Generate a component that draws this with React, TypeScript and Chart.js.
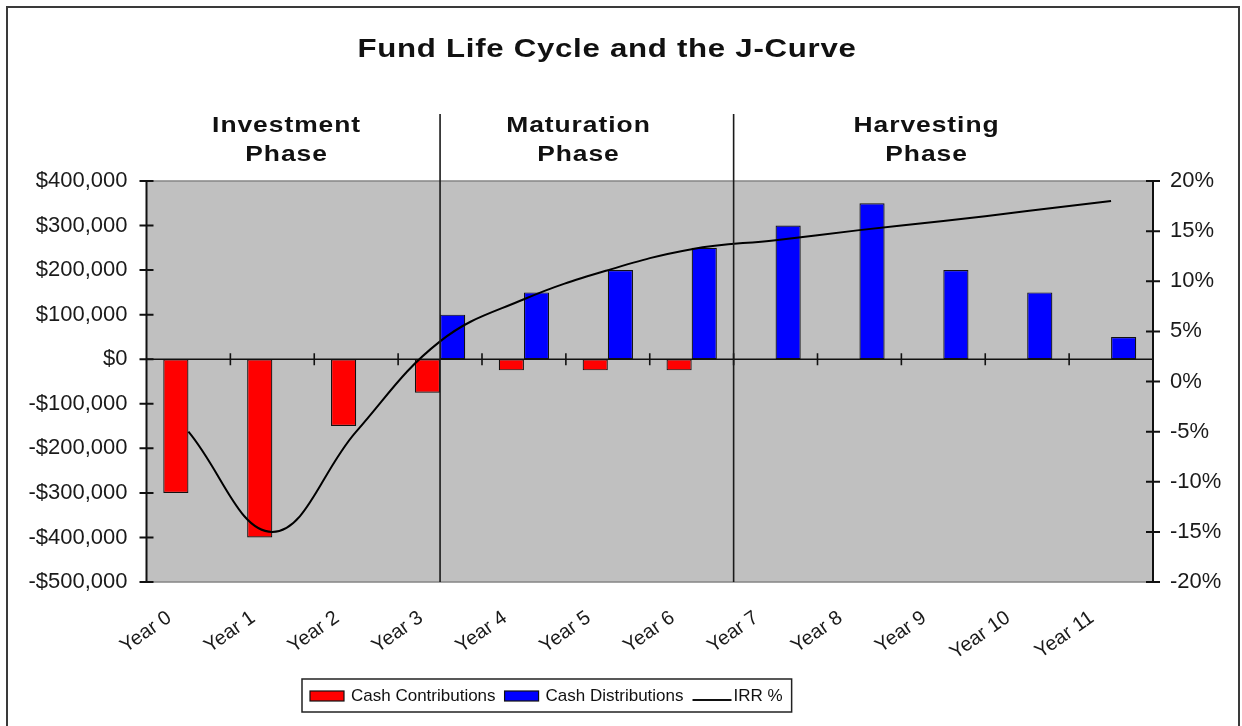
import React, { useEffect, useRef } from 'react';
import { Chart, registerables } from 'chart.js';

Chart.register(...registerables);

// ---------- data ----------
const TITLE = 'Fund Life Cycle and the J-Curve';
const YEARS = ['Year 0', 'Year 1', 'Year 2', 'Year 3', 'Year 4', 'Year 5', 'Year 6', 'Year 7', 'Year 8', 'Year 9', 'Year 10', 'Year 11'];
const CONTRIBUTIONS = [-300000, -400000, -150000, -75000, -25000, -25000, -25000, null, null, null, null, null];
const DISTRIBUTIONS = [null, null, null, 100000, 150000, 200000, 250000, 300000, 350000, 200000, 150000, 50000];
const IRR_PCT = [-5, -15, -5, 4, 8.2, 11.1, 13.2, 14.1, 15.1, 16, 17, 18];
const SERIES_NAMES = ['Cash Contributions', 'Cash Distributions', 'IRR %'];
const PHASES = [['Investment', 'Phase'], ['Maturation', 'Phase'], ['Harvesting', 'Phase']];
const MONEY_MIN = -500000;
const MONEY_MAX = 400000;
const MONEY_STEP = 100000;
const PCT_MIN = -20;
const PCT_MAX = 20;
const PCT_STEP = 5;

// ---------- layout (category units / pixels) ----------
const PHASE_LABEL_AT = [1.17, 4.65, 8.8];
const PHASE_DIVIDER_AT = [3, 6.5];
const W = 1242;
const H = 726;
const FONT = '"Liberation Sans", Arial, sans-serif';

const fmtMoney = (v: number) => (v < 0 ? '-' : '') + '$' + Math.abs(v).toLocaleString('en-US');

const catPixel = (x: any, v: number) => {
  const i = Math.floor(v);
  const f = v - i;
  return x.getPixelForValue(i) + f * (x.getPixelForValue(i + 1) - x.getPixelForValue(i));
};

const stretchedText = (ctx: any, text: string, cx: number, y: number, sx: number) => {
  ctx.save();
  ctx.translate(cx, y);
  ctx.scale(sx, 1);
  ctx.fillText(text, 0, 0);
  ctx.restore();
};

const decor = {
  id: 'decor',
  beforeDraw(chart: any) {
    const ctx = chart.ctx;
    const { left, right, top, bottom } = chart.chartArea;
    ctx.save();
    ctx.fillStyle = '#ffffff';
    ctx.fillRect(0, 0, chart.width, chart.height);
    ctx.strokeStyle = '#3a3a3a';
    ctx.lineWidth = 2;
    ctx.strokeRect(7, 7, 1232, 740);
    ctx.fillStyle = '#C0C0C0';
    ctx.fillRect(left, top, right - left, bottom - top);
    ctx.strokeStyle = '#858585';
    ctx.lineWidth = 1.3;
    ctx.beginPath();
    ctx.moveTo(left, top);
    ctx.lineTo(right, top);
    ctx.moveTo(left, bottom);
    ctx.lineTo(right, bottom);
    ctx.stroke();
    ctx.restore();
  },
  beforeDatasetsDraw(chart: any) {
    const ctx = chart.ctx;
    const { left, right } = chart.chartArea;
    const x = chart.scales.x;
    const y = chart.scales.y;
    const y0 = y.getPixelForValue(0);
    ctx.save();
    ctx.strokeStyle = '#111';
    ctx.lineWidth = 1.6;
    ctx.beginPath();
    ctx.moveTo(left, y0);
    ctx.lineTo(right, y0);
    for (let i = 0; i < YEARS.length - 1; i++) {
      const bx = catPixel(x, i + 0.5);
      ctx.moveTo(bx, y0 - 6);
      ctx.lineTo(bx, y0 + 6);
    }
    ctx.stroke();
    ctx.restore();
  },
  afterDatasetsDraw(chart: any) {
    const ctx = chart.ctx;
    const { left, right, top, bottom } = chart.chartArea;
    const x = chart.scales.x;
    const y = chart.scales.y;
    const y1 = chart.scales.y1;
    ctx.save();
    // axes lines and ticks
    ctx.strokeStyle = '#111';
    ctx.lineWidth = 2;
    ctx.beginPath();
    ctx.moveTo(left, top);
    ctx.lineTo(left, bottom);
    ctx.moveTo(right, top);
    ctx.lineTo(right, bottom);
    y.ticks.forEach((t: any) => {
      const py = y.getPixelForValue(t.value);
      ctx.moveTo(left - 7, py);
      ctx.lineTo(left + 7, py);
    });
    y1.ticks.forEach((t: any) => {
      const py = y1.getPixelForValue(t.value);
      ctx.moveTo(right - 7, py);
      ctx.lineTo(right + 7, py);
    });
    ctx.stroke();

    // phase dividers
    ctx.strokeStyle = '#1a1a1a';
    ctx.lineWidth = 1.6;
    ctx.beginPath();
    PHASE_DIVIDER_AT.forEach((v) => {
      const px = catPixel(x, v);
      ctx.moveTo(px, 114);
      ctx.lineTo(px, bottom);
    });
    ctx.stroke();

    // title
    ctx.fillStyle = '#111';
    ctx.textAlign = 'center';
    ctx.textBaseline = 'alphabetic';
    (ctx as any).letterSpacing = '0.6px';
    ctx.font = `bold 26px ${FONT}`;
    stretchedText(ctx, TITLE, 607, 57, 1.2);

    // phase labels
    (ctx as any).letterSpacing = '0.8px';
    ctx.font = `bold 22px ${FONT}`;
    PHASES.forEach((lines, k) => {
      const px = catPixel(x, PHASE_LABEL_AT[k]);
      lines.forEach((ln, j) => stretchedText(ctx, ln, px, 132 + j * 29, 1.2));
    });
    (ctx as any).letterSpacing = '0px';

    // legend
    ctx.font = `17px ${FONT}`;
    ctx.textAlign = 'left';
    ctx.textBaseline = 'alphabetic';
    let cx = 310;
    const colors = ['#FF0000', '#0000FF'];
    SERIES_NAMES.forEach((name, k) => {
      if (k < 2) {
        ctx.fillStyle = colors[k];
        ctx.fillRect(cx, 691, 34, 10);
        ctx.strokeStyle = '#111';
        ctx.lineWidth = 1.2;
        ctx.strokeRect(cx, 691, 34, 10);
        cx += 41;
      } else {
        ctx.strokeStyle = '#111';
        ctx.lineWidth = 2;
        ctx.beginPath();
        ctx.moveTo(cx, 700);
        ctx.lineTo(cx + 39, 700);
        ctx.stroke();
        cx += 41;
      }
      ctx.fillStyle = '#111';
      ctx.fillText(name, cx, 701);
      cx += ctx.measureText(name).width + 9;
    });
    ctx.strokeStyle = '#222';
    ctx.lineWidth = 1.5;
    ctx.strokeRect(302, 679, cx - 302, 33);
    ctx.restore();
  },
};

export default function App() {
  const ref = useRef<HTMLCanvasElement | null>(null);
  useEffect(() => {
    if (!ref.current) return;
    const yFont = { family: FONT, size: 22 };
    const xFont = { family: FONT, size: 20 };
    const chart = new Chart(ref.current, {
      type: 'bar',
      data: {
        labels: YEARS,
        datasets: [
          {
            type: 'bar',
            label: SERIES_NAMES[0],
            data: CONTRIBUTIONS as any,
            backgroundColor: '#FF0000',
            borderColor: '#111',
            borderWidth: 1.2,
            borderSkipped: false,
            yAxisID: 'y',
            categoryPercentage: 0.6,
            barPercentage: 1.0,
          },
          {
            type: 'bar',
            label: SERIES_NAMES[1],
            data: DISTRIBUTIONS as any,
            backgroundColor: '#0000FF',
            borderColor: '#111',
            borderWidth: 1.2,
            borderSkipped: false,
            yAxisID: 'y',
            categoryPercentage: 0.6,
            barPercentage: 1.0,
          },
          {
            type: 'line',
            label: SERIES_NAMES[2],
            data: IRR_PCT,
            borderColor: '#000',
            borderWidth: 2,
            pointRadius: 0,
            tension: 0.4,
            fill: false,
            yAxisID: 'y1',
            order: -1,
          } as any,
        ],
      },
      options: {
        responsive: false,
        animation: false,
        devicePixelRatio: 1,
        layout: { padding: { top: 181, left: 0, right: 0, bottom: 0 } },
        plugins: { legend: { display: false }, tooltip: { enabled: false }, title: { display: false } },
        scales: {
          x: {
            type: 'category',
            offset: true,
            grid: { display: false, drawTicks: false },
            border: { display: false },
            ticks: {
              font: xFont,
              color: '#1a1a1a',
              minRotation: 35,
              maxRotation: 35,
              autoSkip: false,
              padding: 24,
              labelOffset: -19,
            },
            afterFit: (s: any) => {
              s.height = 144;
            },
          },
          y: {
            position: 'left',
            min: MONEY_MIN,
            max: MONEY_MAX,
            grid: { display: false, drawTicks: false },
            border: { display: false },
            ticks: {
              stepSize: MONEY_STEP,
              font: yFont,
              color: '#1a1a1a',
              padding: 19,
              callback: (v: any) => fmtMoney(Number(v)),
            },
            afterFit: (s: any) => {
              s.width = 146.5;
            },
          },
          y1: {
            position: 'right',
            min: PCT_MIN,
            max: PCT_MAX,
            grid: { display: false, drawTicks: false },
            border: { display: false },
            ticks: {
              stepSize: PCT_STEP,
              font: yFont,
              color: '#1a1a1a',
              padding: 17,
              callback: (v: any) => `${v}%`,
            },
            afterFit: (s: any) => {
              s.width = W - 1153;
            },
          },
        },
      },
      plugins: [decor],
    });
    return () => chart.destroy();
  }, []);
  return (
    <canvas
      ref={ref}
      width={W}
      height={H}
      style={{ position: 'absolute', left: 0, top: 0, width: W, height: H, display: 'block' }}
    />
  );
}
